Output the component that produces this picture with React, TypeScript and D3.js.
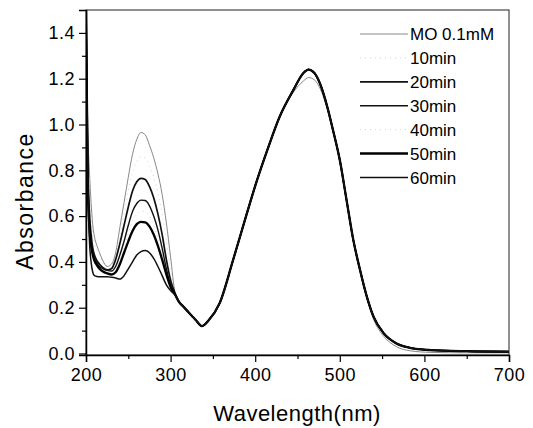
import React, { useEffect, useRef } from "react";
import * as d3 from "d3";

// wavelengths (nm) for the UV band and the visible band
const uvWavelengths = [200, 202, 204, 206, 208, 210, 213, 216, 220, 225, 230, 235, 240, 245, 250, 255, 260, 265, 270, 275, 280, 285, 290, 295, 300, 305];
const visWavelengths = [310, 315, 320, 325, 330, 337, 345, 358, 374, 390, 402, 414, 429, 445, 457, 463, 470, 477, 485, 492, 500, 508, 516, 524, 532, 540, 552, 567, 583, 607, 650, 700];

const seriesNames = ["MO 0.1mM", "10min", "20min", "30min", "40min", "50min", "60min"];

// absorbance in the UV band, per sample
const moUv = [1.52, 1.0, 0.8, 0.66, 0.56, 0.51, 0.47, 0.44, 0.405, 0.38, 0.39, 0.44, 0.55, 0.66, 0.77, 0.87, 0.935, 0.965, 0.955, 0.91, 0.855, 0.785, 0.695, 0.57, 0.42, 0.27];
const min10Uv = [1.52, 0.95, 0.72, 0.6, 0.52, 0.48, 0.45, 0.425, 0.395, 0.372, 0.38, 0.425, 0.51, 0.61, 0.71, 0.79, 0.84, 0.86, 0.855, 0.82, 0.77, 0.7, 0.61, 0.49, 0.36, 0.268];
const min20Uv = [1.52, 0.85, 0.62, 0.52, 0.46, 0.43, 0.405, 0.39, 0.375, 0.365, 0.37, 0.41, 0.48, 0.56, 0.64, 0.71, 0.75, 0.765, 0.76, 0.73, 0.68, 0.61, 0.52, 0.41, 0.32, 0.265];
const min30Uv = [1.52, 0.8, 0.58, 0.49, 0.44, 0.415, 0.395, 0.38, 0.37, 0.363, 0.36, 0.38, 0.43, 0.49, 0.56, 0.62, 0.655, 0.67, 0.668, 0.645, 0.6, 0.54, 0.46, 0.37, 0.3, 0.262];
const min40Uv = [1.52, 0.78, 0.56, 0.47, 0.43, 0.405, 0.385, 0.372, 0.362, 0.356, 0.352, 0.367, 0.41, 0.465, 0.525, 0.578, 0.61, 0.622, 0.62, 0.6, 0.56, 0.505, 0.435, 0.357, 0.295, 0.261];
const min50Uv = [1.52, 0.75, 0.55, 0.47, 0.43, 0.405, 0.385, 0.37, 0.358, 0.35, 0.345, 0.355, 0.39, 0.44, 0.49, 0.535, 0.565, 0.575, 0.573, 0.555, 0.52, 0.47, 0.41, 0.345, 0.29, 0.26];
const min60Uv = [1.52, 0.8, 0.5, 0.4, 0.355, 0.34, 0.336, 0.335, 0.335, 0.335, 0.333, 0.33, 0.325, 0.34, 0.37, 0.4, 0.43, 0.445, 0.45, 0.44, 0.415, 0.38, 0.34, 0.3, 0.275, 0.255];

// absorbance in the visible band
const moVis = [0.225, 0.205, 0.185, 0.165, 0.145, 0.12, 0.145, 0.22, 0.41, 0.61, 0.755, 0.885, 1.03, 1.14, 1.19, 1.205, 1.195, 1.155, 1.07, 0.97, 0.84, 0.665, 0.49, 0.355, 0.238, 0.148, 0.075, 0.03, 0.012, 0.005, 0.003, 0.003];
const treatedVis = [0.225, 0.205, 0.185, 0.165, 0.145, 0.12, 0.145, 0.22, 0.41, 0.61, 0.755, 0.885, 1.035, 1.15, 1.225, 1.24, 1.225, 1.175, 1.08, 0.975, 0.845, 0.67, 0.495, 0.364, 0.248, 0.16, 0.088, 0.044, 0.025, 0.015, 0.01, 0.008];

const xTicks = [200, 300, 400, 500, 600, 700];
const yTicks = [0, 0.2, 0.4, 0.6, 0.8, 1.0, 1.2, 1.4];

const uvSets = [moUv, min10Uv, min20Uv, min30Uv, min40Uv, min50Uv, min60Uv];
const visSets = [moVis, treatedVis, treatedVis, treatedVis, treatedVis, treatedVis, treatedVis];

const lineStyles = [
  { color: "#6a6a6a", width: 0.8, dash: null },
  { color: "#c8c8c8", width: 0.8, dash: "1,4" },
  { color: "#111", width: 1.7, dash: null },
  { color: "#111", width: 1.4, dash: null },
  { color: "#c8c8c8", width: 0.8, dash: "1,4" },
  { color: "#000", width: 2.3, dash: null },
  { color: "#111", width: 1.5, dash: null },
];

const W = 533;
const H = 428;
const margin = { top: 10, right: 24, bottom: 73, left: 86 };
const font = "'Liberation Sans', Arial, sans-serif";

export default function App() {
  const ref = useRef<SVGSVGElement | null>(null);

  useEffect(() => {
    const svg = d3.select(ref.current);
    svg.selectAll("*").remove();

    const x = d3.scaleLinear().domain([200, 700]).range([margin.left, W - margin.right]);
    const y = d3.scaleLinear().domain([-0.0065, 1.5]).range([H - margin.bottom, margin.top]);

    svg
      .append("defs")
      .append("clipPath")
      .attr("id", "plot-clip")
      .append("rect")
      .attr("x", margin.left)
      .attr("y", margin.top)
      .attr("width", W - margin.left - margin.right)
      .attr("height", H - margin.top - margin.bottom);

    const series = seriesNames.map((name, i) => {
      const wl = uvWavelengths.concat(visWavelengths);
      const vals = uvSets[i].concat(visSets[i]);
      return { name, points: wl.map((w, j) => [w, vals[j]] as [number, number]) };
    });

    const line = d3
      .line<[number, number]>()
      .x((d) => x(d[0]))
      .y((d) => y(d[1]))
      .curve(d3.curveMonotoneX);

    const g = svg.append("g").attr("clip-path", "url(#plot-clip)");
    const order = [1, 4, 0, 2, 3, 5, 6];
    order.forEach((i) => {
      const st = lineStyles[i];
      g.append("path")
        .datum(series[i].points)
        .attr("fill", "none")
        .attr("stroke", st.color)
        .attr("stroke-width", st.width)
        .attr("stroke-dasharray", st.dash)
        .attr("stroke-linejoin", "round")
        .attr("d", line);
    });

    // frame
    svg
      .append("rect")
      .attr("x", margin.left)
      .attr("y", margin.top)
      .attr("width", W - margin.left - margin.right)
      .attr("height", H - margin.top - margin.bottom)
      .attr("fill", "none")
      .attr("stroke", "#222")
      .attr("stroke-width", 1);

    // bottom axis
    const xAxis = svg
      .append("g")
      .attr("transform", `translate(0,${H - margin.bottom})`)
      .call(d3.axisBottom(x).tickValues(xTicks).tickSize(7).tickPadding(6).tickFormat(d3.format("d")));
    svg
      .append("g")
      .attr("transform", `translate(0,${H - margin.bottom})`)
      .call(d3.axisBottom(x).tickValues(d3.range(250, 700, 100)).tickSize(4).tickFormat(() => ""))
      .select(".domain")
      .remove();
    xAxis.select(".domain").attr("stroke", "#000").attr("stroke-width", 1.5);
    xAxis
      .selectAll("text")
      .attr("font-family", font)
      .attr("font-size", 18)
      .attr("letter-spacing", 0.5)
      .attr("fill", "#000");

    // left axis
    const yAxis = svg
      .append("g")
      .attr("transform", `translate(${margin.left},0)`)
      .call(d3.axisLeft(y).tickValues(yTicks).tickSize(7).tickPadding(4).tickFormat(d3.format(".1f")));
    svg
      .append("g")
      .attr("transform", `translate(${margin.left},0)`)
      .call(d3.axisLeft(y).tickValues(d3.range(0.1, 1.5, 0.2)).tickSize(4).tickFormat(() => ""))
      .select(".domain")
      .remove();
    yAxis.select(".domain").attr("stroke", "#000").attr("stroke-width", 1.5);
    yAxis
      .selectAll("text")
      .attr("font-family", font)
      .attr("font-size", 18)
      .attr("letter-spacing", 0.5)
      .attr("fill", "#000");
    svg.selectAll(".tick line").attr("stroke", "#000").attr("stroke-width", 1.2);

    // axis titles
    svg
      .append("text")
      .attr("x", 297)
      .attr("y", 421)
      .attr("text-anchor", "middle")
      .attr("font-family", font)
      .attr("font-size", 22)
      .attr("letter-spacing", 0.5)
      .text("Wavelength(nm)");

    svg
      .append("text")
      .attr("transform", `translate(33,201) rotate(-90)`)
      .attr("text-anchor", "middle")
      .attr("font-family", font)
      .attr("font-size", 23)
      .attr("letter-spacing", 1.5)
      .text("Absorbance");

    // legend
    const legend = svg.append("g").attr("transform", "translate(360,34)");
    seriesNames.forEach((name, i) => {
      const st = lineStyles[i];
      const row = legend.append("g").attr("transform", `translate(0,${i * 23.9})`);
      row
        .append("line")
        .attr("x1", 0)
        .attr("x2", 48)
        .attr("stroke", st.color)
        .attr("stroke-width", st.width)
        .attr("stroke-dasharray", st.dash);
      row
        .append("text")
        .attr("x", 50)
        .attr("dy", "0.36em")
        .attr("font-family", font)
        .attr("font-size", 17)
        .text(name);
    });
  }, []);

  return (
    <svg
      ref={ref}
      width={W}
      height={H}
      style={{ position: "absolute", left: 0, top: 0, background: "#fff" }}
    />
  );
}
